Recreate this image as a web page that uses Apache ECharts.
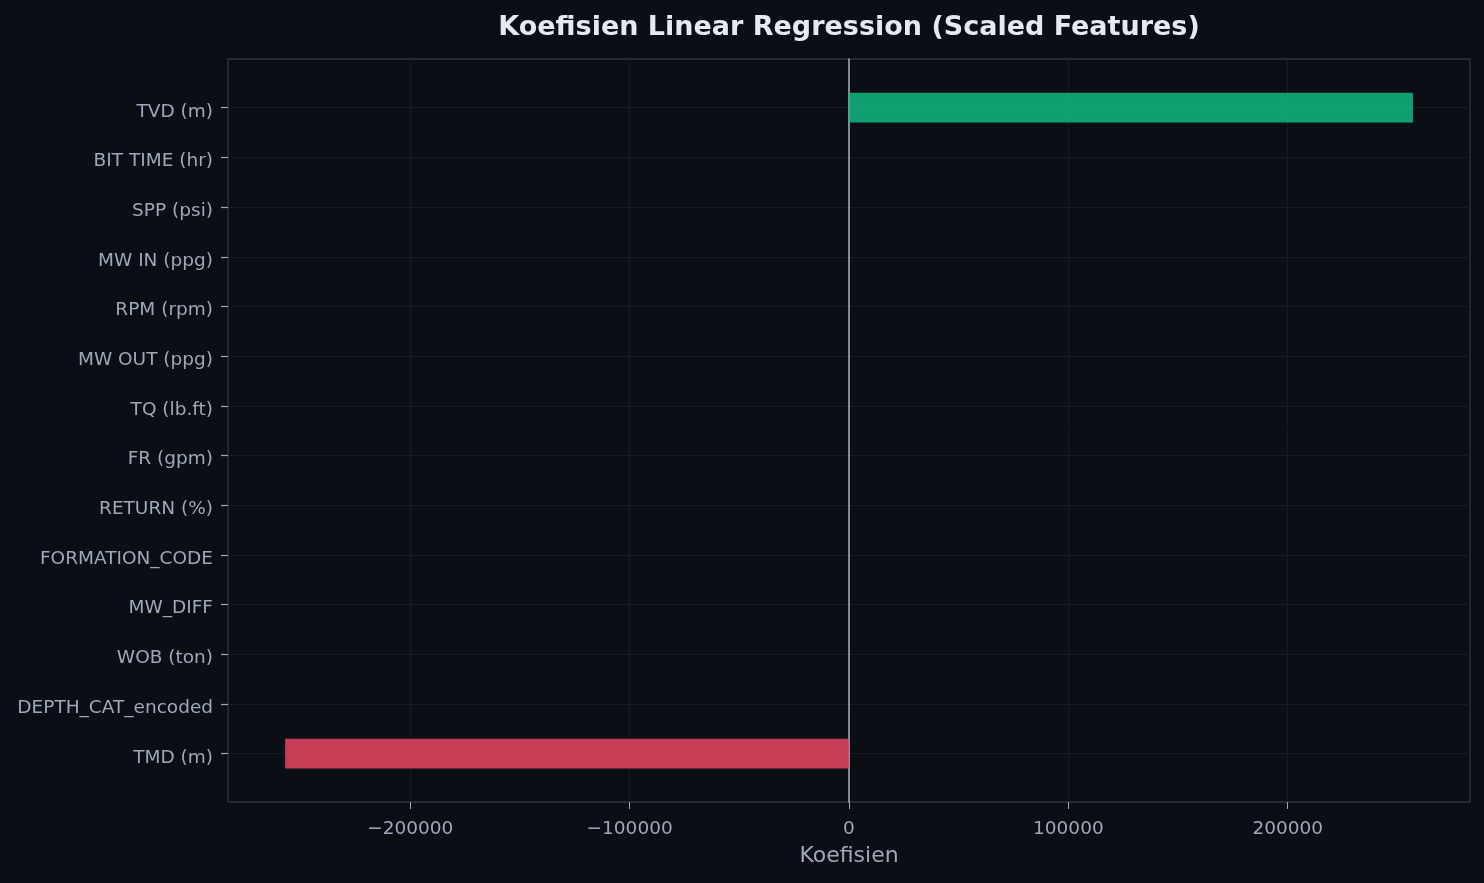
<!DOCTYPE html>
<html>
<head>
<meta charset="utf-8">
<script src="https://cdn.jsdelivr.net/npm/echarts@6/dist/echarts.min.js"></script>
<style>
html,body{margin:0;padding:0;background:#0b0e15;}
#c{width:1484px;height:883px;}
</style>
</head>
<body>
<div id="c"></div>
<script>
// Data (top to bottom)
const categories = ["TVD (m)", "BIT TIME (hr)", "SPP (psi)", "MW IN (ppg)", "RPM (rpm)", "MW OUT (ppg)", "TQ (lb.ft)", "FR (gpm)", "RETURN (%)", "FORMATION_CODE", "MW_DIFF", "WOB (ton)", "DEPTH_CAT_encoded", "TMD (m)"];
const coefficients = [257100, 35, 20, 12, 8, 5, 3, 1, -1, -2, -4, -8, -15, -257050];
const xTicks = [-200000, -100000, 0, 100000, 200000];
const xMin = -283100, xMax = 283100;

const FONT = 'DejaVu Sans';
const TXT = '#9ea8ba';
const GRIDC = '#161b24';

const chart = echarts.init(document.getElementById('c'));
chart.setOption({
  backgroundColor: '#0b0e15',
  animation: false,
  title: {
    text: 'Koefisien Linear Regression (Scaled Features)',
    left: 844, textAlign: 'center', top: 9,
    textStyle: { color: '#e6e9f0', fontSize: 27, fontWeight: 'bold', fontFamily: FONT }
  },
  grid: [
    { left: 228, right: 14, top: 59, bottom: 81, show: true, borderColor: '#2f3542', borderWidth: 1.3, backgroundColor: 'transparent' },
    { left: 228, right: 14, top: 107.7, bottom: 129.3 }
  ],
  xAxis: [
    {
      gridIndex: 0, type: 'value', min: xMin, max: xMax,
      axisLine: { show: false },
      axisTick: { show: true, length: 7, customValues: xTicks, lineStyle: { color: TXT, width: 1 } },
      axisLabel: {
        customValues: xTicks, margin: 18, color: TXT, fontSize: 18.5, fontFamily: FONT,
        formatter: v => (v < 0 ? '\u2212' + Math.abs(v) : String(v))
      },
      splitLine: { show: true, lineStyle: { color: GRIDC, width: 1 } },
      name: 'Koefisien', nameLocation: 'middle', nameGap: 43,
      nameTextStyle: { color: TXT, fontSize: 22, fontFamily: FONT }
    },
    { gridIndex: 1, type: 'value', min: xMin, max: xMax, show: false }
  ],
  yAxis: [
    {
      gridIndex: 0, type: 'value', min: 0, max: 1,
      axisLine: { show: true, onZero: true, lineStyle: { color: '#a9b3c4', width: 1.5 } },
      axisTick: { show: false }, axisLabel: { show: false }, splitLine: { show: false }
    },
    {
      gridIndex: 1, type: 'category', data: categories, inverse: true, boundaryGap: false,
      axisLine: { show: false, onZero: false },
      axisTick: { show: true, length: 7, lineStyle: { color: TXT, width: 1.2 } },
      axisLabel: { margin: 15, color: TXT, fontSize: 18.5, fontFamily: FONT, verticalAlign: 'top', lineHeight: 8 },
      splitLine: { show: true, lineStyle: { color: GRIDC, width: 1 } }
    }
  ],
  series: [{
    type: 'bar', xAxisIndex: 1, yAxisIndex: 1, clip: false,
    barWidth: '60%',
    data: coefficients.map(v => ({
      value: v,
      itemStyle: { color: v >= 0 ? 'rgba(16,185,129,0.85)' : 'rgba(233,69,96,0.85)' }
    }))
  }]
});
</script>
</body>
</html>
